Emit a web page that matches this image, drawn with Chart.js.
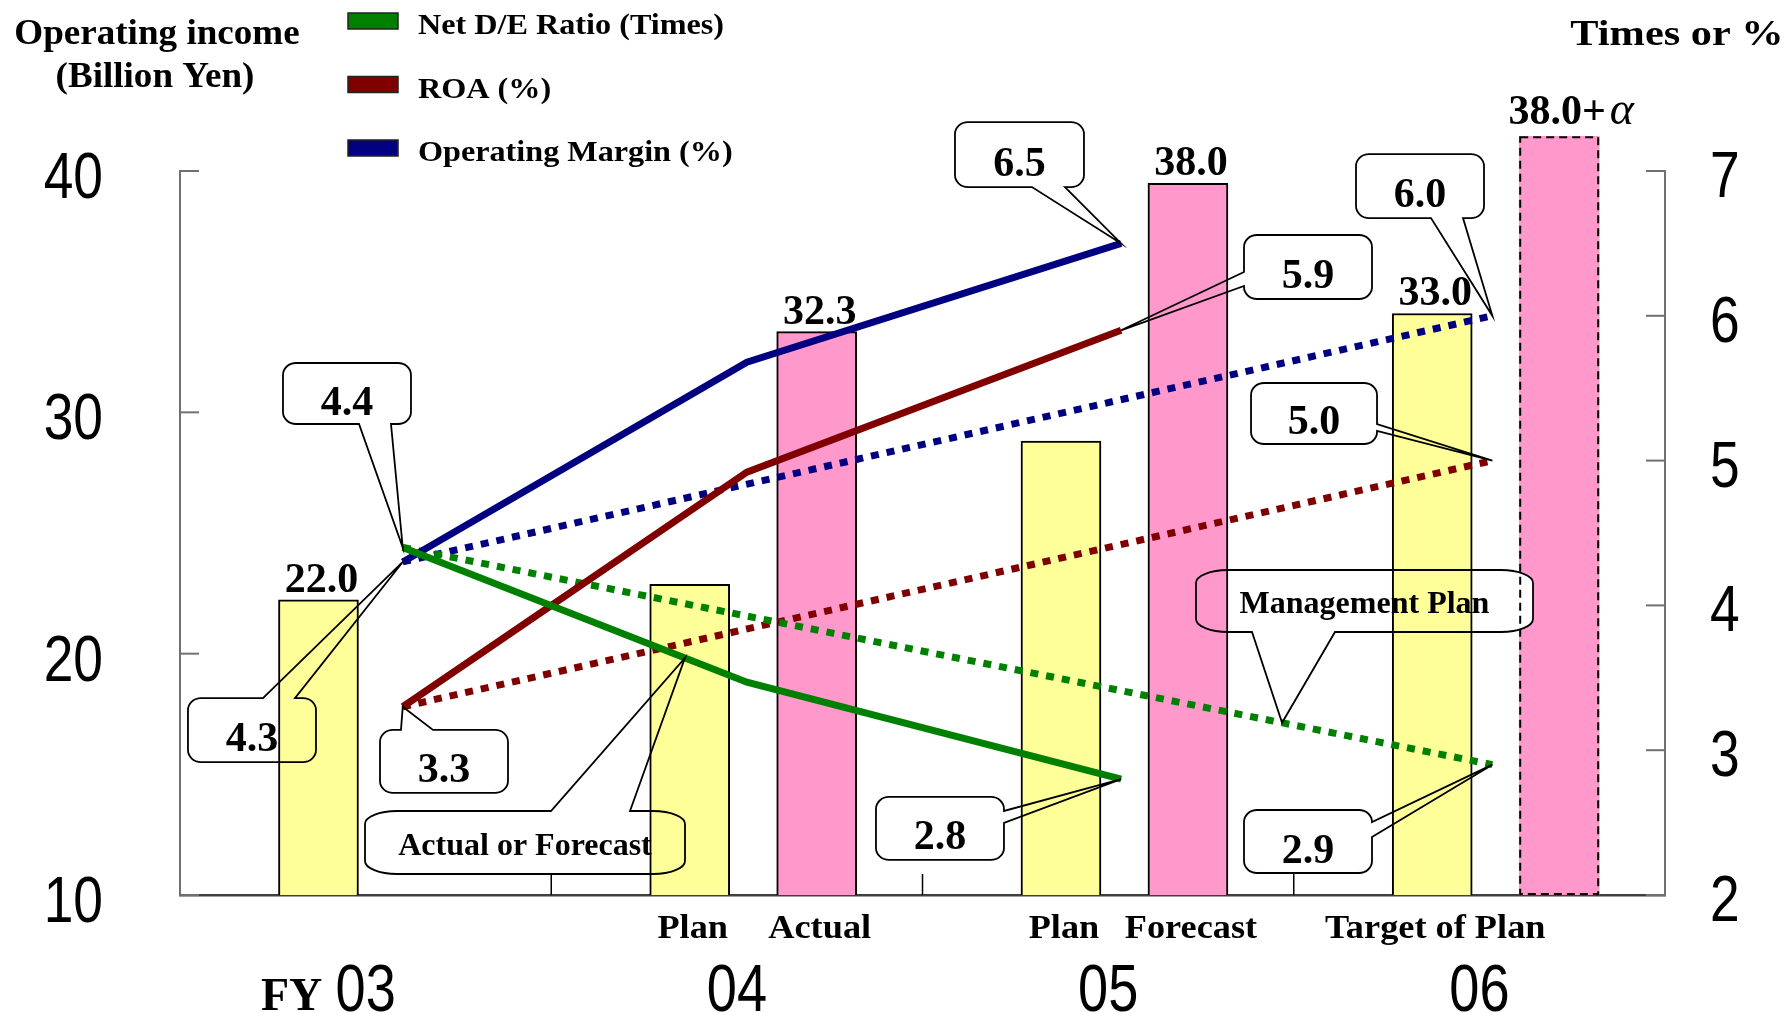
<!DOCTYPE html>
<html>
<head>
<meta charset="utf-8">
<script src="https://cdn.jsdelivr.net/npm/chart.js@4.4.1/dist/chart.umd.min.js"></script>
<style>
  html, body { margin: 0; padding: 0; background: #fff; }
  canvas { display: block; }
</style>
</head>
<body>
<canvas id="c" width="1789" height="1013"></canvas>
<script>
// ---- data -------------------------------------------------------------
const fiscalYears = ['03', '04', '05', '06'];

// Operating income, billion yen
const planIncome   = [22.0, 22.6, 28.1, 33.0];
const actualIncome = [null, 32.3, 38.0, null];
const goalIncome   = [null, null, null, 39.8];
const planShowValue   = [true, false, false, true];
const actualShowValue = [false, true, true, false];
const planNames   = ['', 'Plan', 'Plan', 'Target of Plan'];
const actualNames = ['', 'Actual', 'Forecast', ''];

// Ratios (times or %)
const deRatioActual = [4.4, 3.47, 2.8, null];
const roaActual     = [3.3, 4.92, 5.9, null];
const marginActual  = [4.3, 5.68, 6.5, null];
const deRatioPlan   = [4.4, null, null, 2.9];
const roaPlan       = [3.3, null, null, 5.0];
const marginPlan    = [4.3, null, null, 6.0];

const incomeTicks = [10, 20, 30, 40];
const ratioTicks  = [2, 3, 4, 5, 6, 7];

// ---- look -------------------------------------------------------------
const GREEN = '#008000', RED = '#800000', NAVY = '#000080';
const YELLOW = '#FFFF99', PINK = '#FF99CC';
const SANS = '"Liberation Sans", Arial, sans-serif';
const SERIF = '"Liberation Serif", "Times New Roman", serif';
const NARROW_X = 0.82;   // horizontal squeeze giving a narrow sans face

// where things sit inside each fiscal-year slot (fraction of the slot)
const PLAN_SLOT = 0.373, ACTUAL_SLOT = 0.715, LABEL_SLOT = 0.5;
const LINE_SLOTS = [0.6, 0.527, 0.535, 0.535];

const barPoints = (arr, slot) =>
  arr.map((v, i) => (v == null ? null : { x: i + slot, y: v, i })).filter(Boolean);
const linePoints = arr => arr.map((v, i) => ({ x: i + LINE_SLOTS[i], y: v }));

// Callout annotations: box anchored in axis units (x slot, right-axis value),
// tail pointing at a point of a line series (or a spot along one of its segments).
const CALLOUTS = [
  { text: '4.4', key: 'deActual', at: [0], box: [0.2774, 5.674, 128, 61], edge: 'bottom', base: [76, 108] },
  { text: '4.3', key: 'marginActual', at: [0], box: [0.0215, 3.360, 128, 64], edge: 'top', base: [75, 107] },
  { text: '3.3', key: 'roaActual', at: [0], box: [0.5387, 3.140, 128, 63], edge: 'top', base: [21, 53] },
  { text: 'Actual or Forecast', wide: true, key: 'deActual', at: [0, 1, 0.82], box: [0.4983, 2.580, 320, 63], edge: 'top', base: [186, 265] },
  { text: '2.8', key: 'deActual', at: [2], box: [1.8747, 2.677, 128, 63], edge: 'right', base: [14, 26] },
  { text: '6.5', key: 'marginActual', at: [2], box: [2.0875, 7.338, 129, 65], edge: 'bottom', base: [77, 110] },
  { text: '5.9', key: 'roaActual', at: [2], box: [2.866, 6.558, 128, 64], edge: 'left', base: [37, 51] },
  { text: '6.0', key: 'marginPlan', at: [3], box: [3.1677, 7.117, 128, 64], edge: 'bottom', base: [75, 107] },
  { text: '5.0', key: 'roaPlan', at: [3], box: [2.8849, 5.536, 126, 61], edge: 'right', base: [41, 48] },
  { text: '2.9', key: 'dePlan', at: [3], box: [2.866, 2.587, 128, 63], edge: 'right', base: [12, 27] },
  { text: 'Management Plan', wide: true, key: 'dePlan', at: [0, 3, 0.807], box: [2.7367, 4.2445, 337, 62], edge: 'bottom', base: [56, 139] }
];

// ---- drawing helpers --------------------------------------------------
function text(ctx, s, x, y, font, align = 'center', sx = 1) {
  ctx.save();
  ctx.font = font;
  ctx.fillStyle = '#000';
  ctx.textAlign = align;
  ctx.textBaseline = 'alphabetic';
  ctx.translate(x, y);
  ctx.scale(sx, 1);
  ctx.fillText(s, 0, 0);
  ctx.restore();
}

function datasetByKey(chart, key) {
  const idx = chart.data.datasets.findIndex(d => d.key === key);
  return chart.getDatasetMeta(idx);
}

function calloutGeometry(chart, c) {
  const sx = chart.scales.x, sy = chart.scales.y2;
  const meta = datasetByKey(chart, c.key);
  let tip;
  if (c.at.length === 1) {
    const p = meta.data[c.at[0]];
    tip = { x: p.x, y: p.y };
  } else {
    const a = meta.data[c.at[0]], b = meta.data[c.at[1]], t = c.at[2];
    tip = { x: a.x + (b.x - a.x) * t, y: a.y + (b.y - a.y) * t };
  }
  return {
    L: sx.getPixelForValue(c.box[0]), T: sy.getPixelForValue(c.box[1]),
    W: c.box[2], H: c.box[3],
    rx: c.wide ? 32 : 13, ry: c.wide ? 13 : 12,
    edge: c.edge, b: c.base, tip
  };
}

function calloutPath(ctx, g) {
  const { L, T, W, H, rx, ry, edge, b, tip } = g;
  const R = L + W, B = T + H, k = 0.5523;
  ctx.beginPath();
  ctx.moveTo(L + rx, T);
  if (edge === 'top') { ctx.lineTo(L + b[0], T); ctx.lineTo(tip.x, tip.y); ctx.lineTo(L + b[1], T); }
  ctx.lineTo(R - rx, T);
  ctx.bezierCurveTo(R - rx + k * rx, T, R, T + ry - k * ry, R, T + ry);
  if (edge === 'right') { ctx.lineTo(R, T + b[0]); ctx.lineTo(tip.x, tip.y); ctx.lineTo(R, T + b[1]); }
  ctx.lineTo(R, B - ry);
  ctx.bezierCurveTo(R, B - ry + k * ry, R - rx + k * rx, B, R - rx, B);
  if (edge === 'bottom') { ctx.lineTo(L + b[1], B); ctx.lineTo(tip.x, tip.y); ctx.lineTo(L + b[0], B); }
  ctx.lineTo(L + rx, B);
  ctx.bezierCurveTo(L + rx - k * rx, B, L, B - ry + k * ry, L, B - ry);
  if (edge === 'left') { ctx.lineTo(L, T + b[1]); ctx.lineTo(tip.x, tip.y); ctx.lineTo(L, T + b[0]); }
  ctx.lineTo(L, T + ry);
  ctx.bezierCurveTo(L, T + ry - k * ry, L + rx - k * rx, T, L + rx, T);
  ctx.closePath();
}

function segment(ctx, x1, y1, x2, y2, color, width) {
  ctx.save();
  ctx.strokeStyle = color;
  ctx.lineWidth = width;
  ctx.beginPath();
  ctx.moveTo(x1, y1);
  ctx.lineTo(x2, y2);
  ctx.stroke();
  ctx.restore();
}

// ---- plugin: axis labels, callouts, value labels, legend, titles ------
const decorations = {
  id: 'decorations',
  afterDatasetDraw(chart, args) {
    const ds = chart.data.datasets[args.index];
    if (ds.key !== 'goal') return;
    const ctx = chart.ctx;
    const bottom = chart.chartArea.bottom;
    // callout bodies mask the target bar underneath them
    ctx.save();
    ctx.fillStyle = '#fff';
    CALLOUTS.forEach(c => { calloutPath(ctx, calloutGeometry(chart, c)); ctx.fill(); });
    ctx.restore();
    // dashed outline of the target bar
    args.meta.data.forEach(bar => {
      const { x, y, width } = bar.getProps(['x', 'y', 'width'], true);
      ctx.save();
      ctx.strokeStyle = '#000';
      ctx.lineWidth = 2;
      ctx.setLineDash([8, 5]);
      ctx.strokeRect(x - width / 2 + 1, y + 1, width - 2, bottom - y - 2);
      ctx.restore();
    });
  },
  afterDatasetsDraw(chart) {
    const ctx = chart.ctx;
    const { left, right, bottom } = chart.chartArea;
    const sx = chart.scales.x, sy = chart.scales.y, sy2 = chart.scales.y2;
    const tickFont = `65px ${SANS}`;

    // inward tick marks and tick labels
    sy.ticks.forEach(t => {
      const py = sy.getPixelForValue(t.value);
      segment(ctx, left, py, left + 19, py, '#707070', 2);
      text(ctx, String(t.value), left - 77, py + 27, tickFont, 'right', NARROW_X);
    });
    sy2.ticks.forEach(t => {
      const py = sy2.getPixelForValue(t.value);
      segment(ctx, right, py, right - 19, py, '#707070', 2);
      text(ctx, String(t.value), right + 45, py + 26, tickFont, 'left', NARROW_X);
    });
    for (let k = 1; k < fiscalYears.length; k++) {
      const px = sx.getPixelForValue(k);
      segment(ctx, px, bottom, px, bottom - 21, '#000', 1.5);
    }
    sx.ticks.forEach((t, i) => {
      text(ctx, fiscalYears[i], sx.getPixelForValue(t.value), chart.height - 2, `66px ${SANS}`, 'center', NARROW_X);
    });
    // "FY" in front of the first year label
    text(ctx, 'FY', sx.getPixelForValue(LABEL_SLOT) - 74, chart.height - 3, `bold 46px ${SERIF}`);

    // bar value labels and the names below the bars
    const valueFont = `bold 42px ${SERIF}`;
    const nameFont = `bold 33px ${SERIF}`;
    [['plan', planShowValue, planNames], ['actual', actualShowValue, actualNames]].forEach(([key, show, names]) => {
      const meta = datasetByKey(chart, key);
      const ds = chart.data.datasets[meta.index];
      meta.data.forEach((bar, j) => {
        const pt = ds.data[j];
        if (show[pt.i]) text(ctx, pt.y.toFixed(1), bar.x + 3, bar.y - 8, valueFont);
        if (names[pt.i]) text(ctx, names[pt.i], bar.x + 3, bottom + 43, nameFont, 'center', 1.1);
      });
    });
    const goalMeta = datasetByKey(chart, 'goal');
    goalMeta.data.forEach(bar => {
      ctx.save();
      ctx.font = valueFont;
      const w1 = ctx.measureText('38.0+').width;
      ctx.font = `italic 46px ${SERIF}`;
      const w2 = ctx.measureText('\u03b1').width;
      ctx.restore();
      const x0 = bar.x + 12 - (w1 + w2 + 4) / 2;
      text(ctx, '38.0+', x0, bar.y - 12, valueFont, 'left');
      text(ctx, '\u03b1', x0 + w1 + 4, bar.y - 12, `italic 46px ${SERIF}`, 'left');
    });

    // callout outlines and their texts
    CALLOUTS.forEach(c => {
      const g = calloutGeometry(chart, c);
      ctx.save();
      ctx.strokeStyle = '#000';
      ctx.lineWidth = 1.8;
      ctx.lineJoin = 'miter';
      calloutPath(ctx, g);
      ctx.stroke();
      ctx.restore();
      const cx = g.L + g.W / 2, cy = g.T + g.H / 2;
      if (c.wide) text(ctx, c.text, cx, cy + 12, `bold 32px ${SERIF}`);
      else text(ctx, c.text, cx, cy + 21, valueFont);
    });

    // axis titles
    const headFont = `bold 35px ${SERIF}`;
    text(ctx, 'Operating income', 157, 44, headFont, 'center', 1.06);
    text(ctx, '(Billion Yen)', 155, 87, headFont, 'center', 1.06);
    text(ctx, 'Times or %', 1677, 45, headFont, 'center', 1.21);

    // legend
    const legendFont = `bold 29px ${SERIF}`;
    chart.data.datasets.filter(d => d.legendEntry).forEach((d, n) => {
      const top = 13 + n * 63.5;
      ctx.save();
      ctx.fillStyle = d.borderColor;
      ctx.fillRect(348, top, 50, 16);
      ctx.strokeStyle = '#222';
      ctx.lineWidth = 1.5;
      ctx.strokeRect(348, top, 50, 16);
      ctx.restore();
      text(ctx, d.label, 418, top + 21, legendFont, 'left', 1.11);
    });
  }
};

// ---- chart ------------------------------------------------------------
const solid = (key, label, values, color) => ({
  type: 'line', key, label, legendEntry: true, data: linePoints(values),
  borderColor: color, borderWidth: 7, pointRadius: 0, tension: 0,
  borderCapStyle: 'butt', yAxisID: 'y2', order: 1
});
const dotted = (key, values, color) => ({
  type: 'line', key, data: linePoints(values), spanGaps: true,
  borderColor: color, borderWidth: 7, borderDash: [8, 8], pointRadius: 0, tension: 0,
  borderCapStyle: 'butt', yAxisID: 'y2', order: 2
});

new Chart(document.getElementById('c'), {
  type: 'bar',
  data: {
    datasets: [
      solid('deActual', 'Net D/E Ratio (Times)', deRatioActual, GREEN),
      solid('roaActual', 'ROA (%)', roaActual, RED),
      solid('marginActual', 'Operating Margin (%)', marginActual, NAVY),
      dotted('dePlan', deRatioPlan, GREEN),
      dotted('roaPlan', roaPlan, RED),
      dotted('marginPlan', marginPlan, NAVY),
      { type: 'bar', key: 'plan', data: barPoints(planIncome, PLAN_SLOT),
        backgroundColor: YELLOW, borderColor: '#000', borderWidth: 2,
        barThickness: 80, grouped: false, yAxisID: 'yBar', order: 5 },
      { type: 'bar', key: 'actual', data: barPoints(actualIncome, ACTUAL_SLOT),
        backgroundColor: PINK, borderColor: '#000', borderWidth: 2,
        barThickness: 80, grouped: false, yAxisID: 'yBar', order: 5 },
      { type: 'bar', key: 'goal', data: barPoints(goalIncome, ACTUAL_SLOT),
        backgroundColor: PINK, borderWidth: 0,
        clip: { left: false, top: false, right: false, bottom: 0 },
        barThickness: 80, grouped: false, yAxisID: 'yBar', order: 9 }
    ]
  },
  options: {
    responsive: false,
    animation: false,
    devicePixelRatio: 1,
    layout: { padding: { top: 171, left: 0, right: 0, bottom: 0 } },
    plugins: { legend: { display: false }, tooltip: { enabled: false } },
    scales: {
      x: {
        type: 'linear', position: 'bottom', min: 0, max: fiscalYears.length,
        offset: false,
        grid: { display: false, drawTicks: false, offset: false },
        border: { display: true, color: '#404040', width: 2.5 },
        afterBuildTicks: s => { s.ticks = fiscalYears.map((_, i) => ({ value: i + LABEL_SLOT })); },
        afterFit: s => { s.height = 118; },
        ticks: { display: false }
      },
      y: {
        type: 'linear', position: 'left', min: incomeTicks[0], max: incomeTicks[incomeTicks.length - 1],
        grid: { display: false, drawTicks: false },
        border: { display: true, color: '#707070', width: 2 },
        afterBuildTicks: s => { s.ticks = incomeTicks.map(v => ({ value: v })); },
        afterFit: s => { s.width = 180; },
        ticks: { display: false }
      },
      y2: {
        type: 'linear', position: 'right', min: ratioTicks[0], max: ratioTicks[ratioTicks.length - 1],
        grid: { display: false, drawTicks: false },
        border: { display: true, color: '#707070', width: 2 },
        afterBuildTicks: s => { s.ticks = ratioTicks.map(v => ({ value: v })); },
        afterFit: s => { s.width = 124; },
        ticks: { display: false }
      },
      yBar: { type: 'linear', display: false, min: 10.67, max: 38.47 }
    }
  },
  plugins: [decorations]
});
</script>
</body>
</html>
